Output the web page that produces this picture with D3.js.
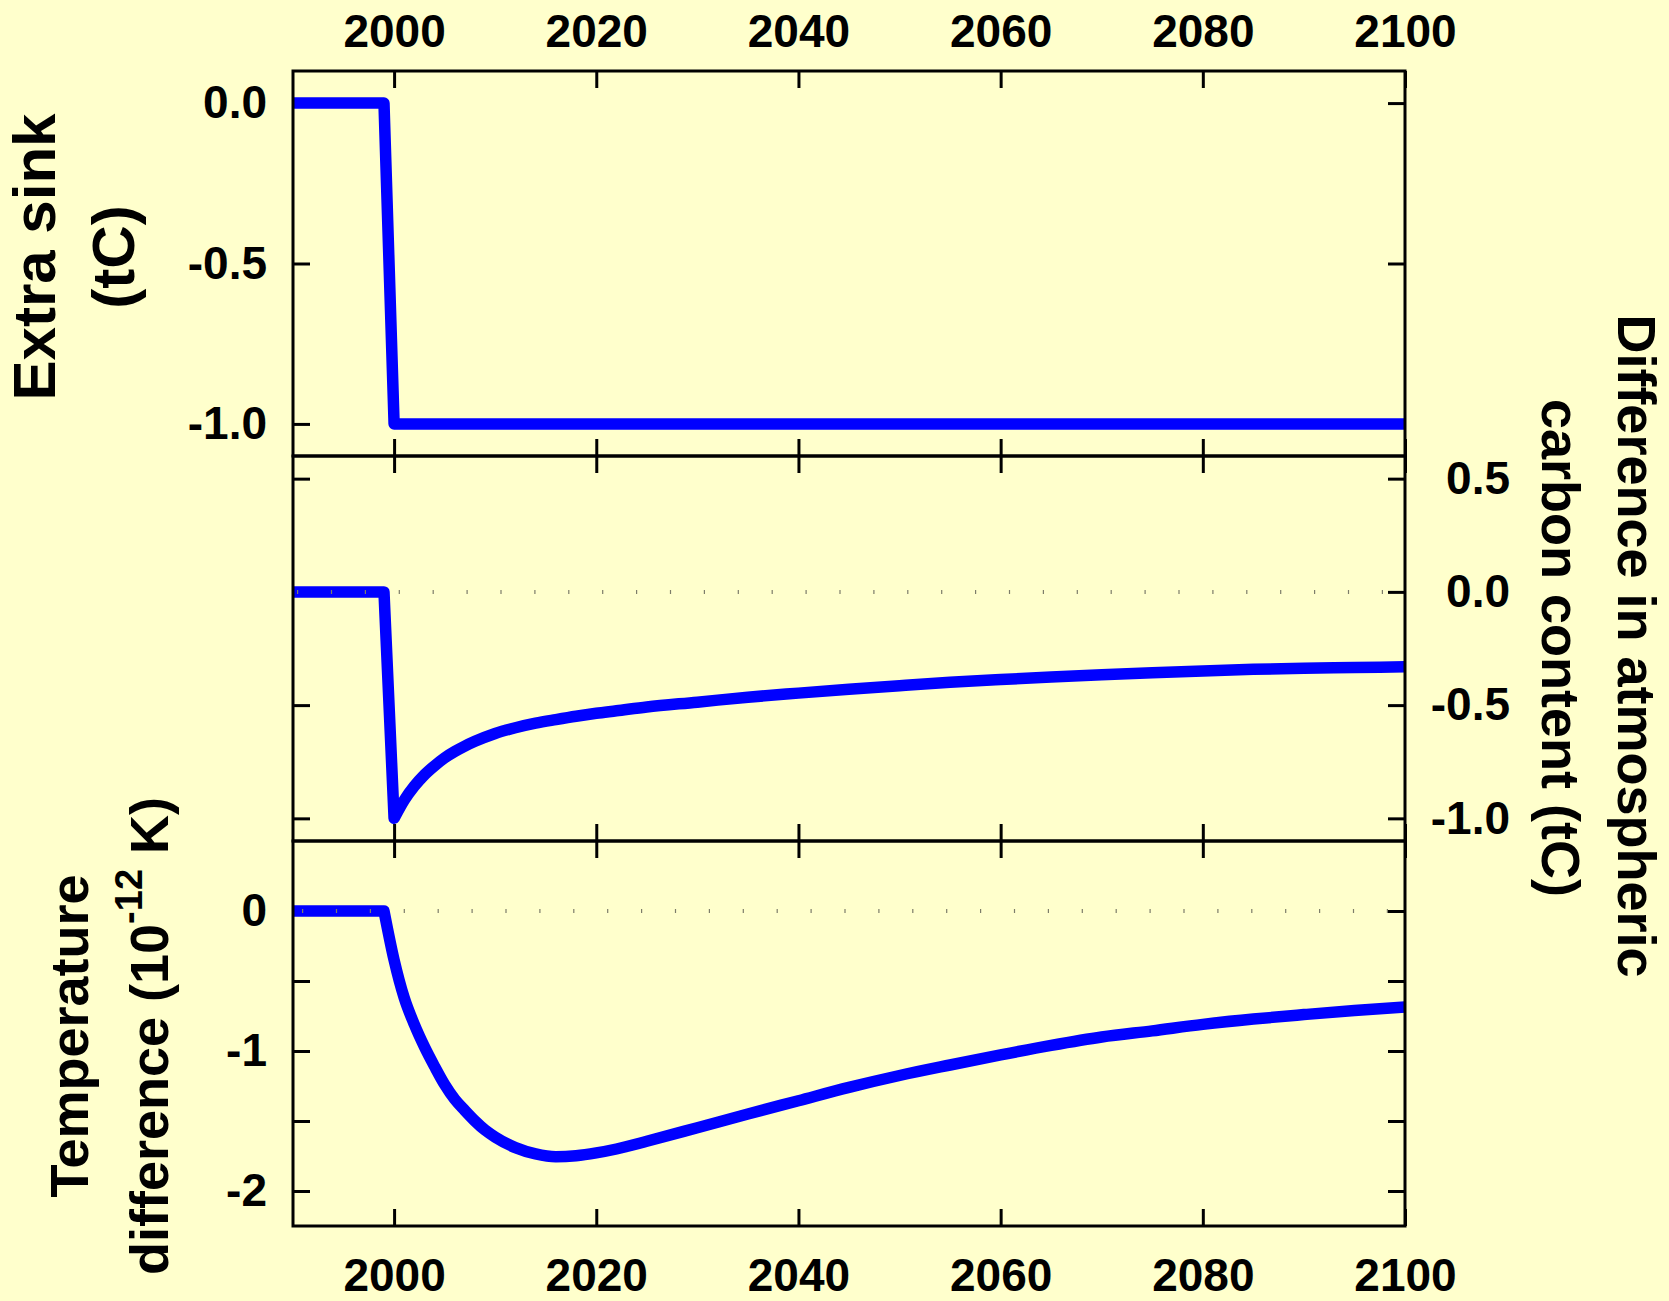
<!DOCTYPE html>
<html><head><meta charset="utf-8">
<script src="https://cdn.jsdelivr.net/npm/d3@7"></script>
<style>
html,body{margin:0;padding:0;background:#ffffcc;}
svg{display:block;}
text{font-family:"Liberation Sans",Arial,Helvetica,sans-serif;font-weight:bold;fill:#000;}
</style></head><body>
<svg id="chart" width="1669" height="1301"></svg>
<script>
// ---------- data ----------
const xTicks = [2000, 2020, 2040, 2060, 2080, 2100];
const xTickLabels = ["2000", "2020", "2040", "2060", "2080", "2100"];

const sinkYears  = [1990, 1999, 2000, 2100];
const sinkValues = [0, 0, -1.0, -1.0];

const carbonYears  = [1990, 1999, 2000, 2001, 2002, 2003, 2004, 2005, 2006, 2007, 2008, 2010, 2012, 2014, 2016, 2018, 2020, 2022, 2025, 2030, 2035, 2040, 2045, 2050, 2055, 2060, 2065, 2070, 2075, 2080, 2085, 2090, 2095, 2100];
const carbonValues = [0, 0, -1.0, -0.92, -0.858, -0.808, -0.768, -0.733, -0.705, -0.681, -0.66, -0.625, -0.6, -0.58, -0.564, -0.549, -0.536, -0.525, -0.508, -0.487, -0.465, -0.447, -0.43, -0.414, -0.399, -0.387, -0.376, -0.366, -0.357, -0.349, -0.342, -0.337, -0.334, -0.331];

const tempYears  = [1990, 1999, 2000, 2001, 2002, 2003, 2004, 2005, 2006, 2007, 2008, 2009, 2010, 2012, 2014, 2016, 2018, 2020, 2022, 2025, 2030, 2035, 2040, 2045, 2050, 2055, 2060, 2065, 2070, 2075, 2080, 2085, 2090, 2095, 2100];
const tempValues = [0, 0, -0.35, -0.62, -0.81, -0.97, -1.11, -1.24, -1.345, -1.425, -1.5, -1.565, -1.615, -1.69, -1.735, -1.755, -1.748, -1.728, -1.70, -1.645, -1.548, -1.45, -1.355, -1.26, -1.175, -1.10, -1.028, -0.96, -0.90, -0.856, -0.81, -0.772, -0.74, -0.71, -0.685];

const sinkTicks = [0, -0.5, -1.0];
const sinkTickLabels = ["0.0", "-0.5", "-1.0"];
const carbonTicks = [0.5, 0, -0.5, -1.0];
const carbonTickLabels = ["0.5", "0.0", "-0.5", "-1.0"];
const tempTicks = [0, -0.5, -1, -1.5, -2];
const tempTickLabels = ["0", "", "-1", "", "-2"];

// ---------- layout ----------
const svg = d3.select("#chart");
const W = 1669, H = 1301;
svg.append("rect").attr("width", W).attr("height", H).attr("fill", "#ffffcc");

const L = 293, R = 1405;
const P1 = [71, 456], P2 = [456, 841], P3 = [841, 1226];

const x = d3.scaleLinear().domain([1990, 2100]).range([L, R]);
const y1 = d3.scaleLinear().domain([-1.1, 0.1]).range([P1[1], P1[0]]);
const y2 = d3.scaleLinear().domain([-1.1, 0.6]).range([P2[1], P2[0]]);
const y3 = d3.scaleLinear().domain([-2.25, 0.5]).range([P3[1], P3[0]]);

const TICK = 17, AXW = 3, FS = 46;
const BLUE = "#0000ff";

function styleAxis(g) {
  g.select(".domain").remove();
  g.selectAll(".tick line").attr("stroke", "#000").attr("stroke-width", AXW);
  g.attr("font-size", FS).attr("font-family", '"Liberation Sans",Arial,Helvetica,sans-serif').attr("font-weight", "bold");
  g.selectAll("text").attr("fill", "#000");
}

function panel(y, P, yTicks) {
  const g = svg.append("g");
  g.append("g").attr("transform", `translate(0,${P[0]})`)
    .call(d3.axisBottom(x).tickValues(xTicks).tickSize(TICK).tickSizeOuter(0).tickFormat(""))
    .call(styleAxis);
  g.append("g").attr("transform", `translate(0,${P[1]})`)
    .call(d3.axisTop(x).tickValues(xTicks).tickSize(TICK).tickSizeOuter(0).tickFormat(""))
    .call(styleAxis);
  g.append("g").attr("transform", `translate(${L},0)`)
    .call(d3.axisRight(y).tickValues(yTicks).tickSize(TICK).tickSizeOuter(0).tickFormat(""))
    .call(styleAxis);
  g.append("g").attr("transform", `translate(${R},0)`)
    .call(d3.axisLeft(y).tickValues(yTicks).tickSize(TICK).tickSizeOuter(0).tickFormat(""))
    .call(styleAxis);
  return g;
}

// straight segments up to the step (index <= k), smooth curve afterwards
function drawLine(g, years, values, y, k) {
  const data = years.map((d, i) => [d, values[i]]);
  const lin = d3.line().x(d => x(d[0])).y(d => y(d[1]));
  const smooth = d3.line().curve(d3.curveMonotoneX).x(d => x(d[0])).y(d => y(d[1]));
  let path = lin(data.slice(0, k + 1));
  const rest = data.slice(k);
  if (rest.length > 1) path += smooth(rest).replace(/^M/, "L");
  g.append("path")
    .attr("fill", "none").attr("stroke", BLUE).attr("stroke-width", 11.5)
    .attr("stroke-linejoin", "round").attr("stroke-linecap", "butt")
    .attr("d", path);
}

function drawZero(g, y, offset) {
  g.append("path").datum([[1990, 0], [2100, 0]])
    .attr("fill", "none").attr("stroke", "#7d7d6a").attr("stroke-width", 4)
    .attr("stroke-dasharray", "1.2 32.7").attr("stroke-dashoffset", offset)
    .attr("d", d3.line().x(d => x(d[0])).y(d => y(d[1])));
}

function frame(P) {
  svg.append("rect").attr("x", L).attr("y", P[0]).attr("width", R - L).attr("height", P[1] - P[0])
    .attr("fill", "none").attr("stroke", "#000").attr("stroke-width", AXW);
}

const g1 = panel(y1, P1, sinkTicks);
drawLine(g1, sinkYears, sinkValues, y1, 3);
const g2 = panel(y2, P2, carbonTicks);
drawLine(g2, carbonYears, carbonValues, y2, 2);
drawZero(g2, y2, -4);
const g3 = panel(y3, P3, tempTicks);
drawLine(g3, tempYears, tempValues, y3, 1);
drawZero(g3, y3, -9);

frame(P1); frame(P2); frame(P3);

// ---------- tick labels ----------
svg.append("g").attr("transform", `translate(0,${P1[0]})`)
  .call(d3.axisTop(x).tickValues(xTicks).tickSize(0).tickPadding(24).tickFormat((d, i) => xTickLabels[i]))
  .call(styleAxis);
svg.append("g").attr("transform", `translate(0,${P3[1]})`)
  .call(d3.axisBottom(x).tickValues(xTicks).tickSize(0).tickPadding(32).tickFormat((d, i) => xTickLabels[i]))
  .call(styleAxis);

svg.append("g").attr("transform", `translate(${L},0)`)
  .call(d3.axisLeft(y1).tickValues(sinkTicks).tickSize(0).tickPadding(26).tickFormat((d, i) => sinkTickLabels[i]))
  .call(styleAxis);
svg.append("g").attr("transform", `translate(${L},0)`)
  .call(d3.axisLeft(y3).tickValues(tempTicks).tickSize(0).tickPadding(26).tickFormat((d, i) => tempTickLabels[i]))
  .call(styleAxis);
const rl = svg.append("g").attr("transform", `translate(${R},0)`)
  .call(d3.axisRight(y2).tickValues(carbonTicks).tickSize(0).tickFormat((d, i) => carbonTickLabels[i]))
  .call(styleAxis);
rl.selectAll("text").attr("text-anchor", "end").attr("x", 105);

// ---------- titles ----------
function title(tx, ty, rot, size, txt) {
  return svg.append("text").attr("transform", `translate(${tx},${ty}) rotate(${rot})`)
    .attr("text-anchor", "middle").attr("font-size", size).text(txt);
}
title(55, 257, -90, 60, "Extra sink");
title(134, 257, -90, 60, "(tC)");
title(88, 1036, -90, 54, "Temperature");
const t2 = svg.append("text").attr("transform", `translate(168,1036) rotate(-90)`)
  .attr("text-anchor", "middle").attr("font-size", 54);
t2.append("tspan").text("difference (10");
t2.append("tspan").attr("font-size", 38).attr("dy", -26).text("-12");
t2.append("tspan").attr("dy", 26).text(" K)");
title(1618, 646, 90, 54, "Difference in atmospheric");
title(1542, 648, 90, 54, "carbon content (tC)");
</script>
</body></html>
